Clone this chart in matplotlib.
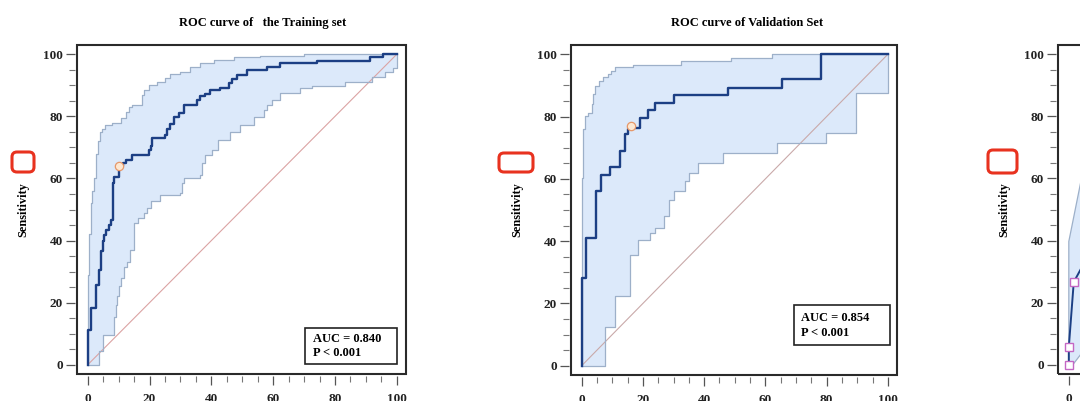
import matplotlib
matplotlib.use("Agg")
import matplotlib.pyplot as plt
from matplotlib.patches import Rectangle, FancyBboxPatch
from matplotlib.transforms import IdentityTransform
from matplotlib.ticker import MultipleLocator

plt.rcParams['font.family'] = ['Liberation Serif', 'DejaVu Serif']
plt.rcParams['font.weight'] = 'bold'

# ---- training set (step ROC, x = 100 - specificity, y = sensitivity) ----
train_x = [0, 0, 0.9, 2.8, 3.6, 4.3, 4.8, 5.4, 6.0, 6.8, 7.6, 8.1, 8.6, 10.0, 11.4, 12.2,
           14.3, 19.7, 20.3, 20.8, 25.1, 25.7, 26.6, 27.8, 29.4, 31.0, 35.4, 36.4, 38.0,
           39.7, 42.9, 45.6, 46.7, 48.3, 51.5, 58.0, 62.3, 74.1, 91.4, 95.7, 100]
train_y = [0, 11.3, 18.2, 25.7, 30.6, 36.5, 39.7, 41.8, 43.4, 45.0, 46.7, 58.5, 60.6, 64.0,
           65.1, 66.0, 67.4, 69.2, 70.5, 73.0, 74.0, 75.8, 77.5, 79.7, 81.2, 83.7, 85.3,
           86.6, 87.2, 88.5, 89.3, 90.7, 92.0, 93.3, 94.9, 96.0, 97.1, 98.0, 99.0, 100, 100]
train_up_x = [0, 0, 0.4, 0.9, 1.4, 1.9, 2.5, 2.8, 3.2, 3.9, 4.6, 5.7, 7.9, 10.6, 12.2, 13.3,
              14.3, 17.6, 18.1, 19.7, 22.4, 25.1, 26.7, 30.0, 33.2, 36.4, 40.7, 47.2, 55.8,
              70.0, 100]
train_up_y = [0, 29, 42, 52, 56, 60, 62, 68, 72, 75, 76, 77.2, 77.8, 79.4, 81.5, 83.1, 83.7,
              86.9, 88.5, 90.0, 91.2, 92.5, 93.5, 94.4, 96.0, 97.1, 98.2, 99.0, 99.5, 100, 100]
train_lo_x = [0, 3.6, 5.0, 8.4, 9.0, 9.5, 10.0, 10.8, 11.6, 12.7, 13.6, 15.0, 16.4, 18.1,
              19.2, 20.3, 23.5, 30.0, 30.5, 31.0, 36.4, 37.0, 38.0, 40.2, 42.3, 46.1, 49.4,
              53.7, 56.9, 58.0, 59.6, 62.3, 68.7, 72.5, 83.3, 91.9, 96.2, 98.9, 100]
train_lo_y = [0, 4.5, 9.7, 15.5, 19.3, 22.0, 25.2, 27.9, 31.6, 33.2, 37.0, 45.6, 47.2, 48.8,
              50.4, 52.6, 54.7, 55.2, 58.5, 60.1, 61.2, 64.9, 67.6, 69.2, 72.4, 75.1, 77.2,
              79.9, 82.1, 83.7, 85.3, 87.4, 89.1, 89.9, 91.2, 92.8, 94.4, 95.5, 100]
train_cut = (10.0, 64.0)
train_auc = "AUC = 0.840\nP < 0.001"

# ---- validation set ----
valid_x = [0, 0, 1.5, 4.8, 6.4, 9.4, 12.4, 14.0, 15.1, 16.0, 18.9, 21.8, 23.8, 30.1, 47.7,
           65.4, 78.1, 100]
valid_y = [0, 28, 40.9, 56, 61.3, 63.7, 68.9, 74.3, 75.9, 76.5, 79.4, 82, 84.5, 87, 89.3,
           92.2, 100, 100]
valid_up_x = [0, 0, 0.4, 1.0, 2.1, 3.2, 3.7, 4.5, 5.5, 6.9, 8.6, 9.7, 11.0, 16.7, 32.5,
              48.8, 62.3, 100]
valid_up_y = [0, 60.3, 75.9, 80.2, 81.3, 83.9, 87.2, 89.9, 91.5, 92.6, 93.6, 94.7, 95.8,
              96.6, 97.9, 98.8, 100, 100]
valid_lo_x = [0, 7.5, 11.0, 15.8, 18.3, 22.3, 24.0, 26.8, 28.4, 30.0, 33.8, 35.2, 37.9,
              46.0, 63.9, 79.7, 89.5, 100]
valid_lo_y = [0, 12.4, 22.3, 35.5, 40.4, 42.5, 44.1, 48.1, 53.3, 56.0, 59.2, 61.9, 65.1,
              68.4, 71.4, 74.8, 87.7, 100]
valid_cut = (16.0, 77.0)
valid_auc = "AUC = 0.854\nP < 0.001"

# ---- third panel (only its left edge is visible) ----
third_x = [0, 0, 1.6, 6.0]
third_y = [0, 5.7, 26.6, 34.7]
third_up_x = [0, 0, 4.0, 8.0]
third_up_y = [0, 39.7, 59.5, 70.0]
third_lo_x = [0, 1.3, 4.0, 8.0]
third_lo_y = [0, 0, 3.5, 8.0]

titles = ["ROC curve of   the Training set", "ROC curve of Validation Set"]

W, H = 1080, 401
fill_c = '#dce9fa'
ci_c = '#9db0c9'
main_c = '#1c3f84'


def steps(xs, ys):
    vx, vy = [xs[0]], [ys[0]]
    for i in range(1, len(xs)):
        vx += [xs[i], xs[i]]
        vy += [ys[i - 1], ys[i]]
    return vx, vy


def make_axes(left, top, w, h):
    ax = fig.add_axes([left / W, 1 - (top + h) / H, w / W, h / H])
    ax.set_xlim(-3.5, 103)
    ax.set_ylim(-3, 103)
    for s in ax.spines.values():
        s.set_visible(False)
    ax.spines['left'].set_position(('outward', 1.5))
    ax.spines['bottom'].set_position(('outward', 1.5))
    ax.add_patch(Rectangle((0, 0), 1, 1, transform=ax.transAxes, fill=False,
                           ec='#2a2a2a', lw=1.5, clip_on=False, zorder=5))
    ax.xaxis.set_major_locator(MultipleLocator(20))
    ax.xaxis.set_minor_locator(MultipleLocator(5))
    ax.yaxis.set_major_locator(MultipleLocator(20))
    ax.yaxis.set_minor_locator(MultipleLocator(5))
    ax.tick_params(which='major', length=6.5, width=0.9, color='#555555')
    ax.tick_params(which='minor', length=4, width=0.8, color='#777777')
    ax.tick_params(axis='y', which='major', pad=2, labelsize=9.5, labelcolor='#222222')
    ax.tick_params(axis='x', which='major', pad=5.5, labelsize=9.5, labelcolor='#222222')
    ax.set_ylabel('Sensitivity', fontsize=8.8, fontweight='bold', labelpad=10)
    return ax


def draw_steps(ax, mx, my, ux, uy, lx, ly, diag_c):
    uvx, uvy = steps(ux, uy)
    lvx, lvy = steps(lx, ly)
    ax.fill(uvx + lvx[::-1], uvy + lvy[::-1], color=fill_c, lw=0, zorder=1)
    ax.plot([0, 100], [0, 100], color=diag_c, lw=0.8, zorder=2)
    ax.plot(uvx, uvy, color=ci_c, lw=0.9, zorder=3)
    ax.plot(lvx, lvy, color=ci_c, lw=0.9, zorder=3)
    mvx, mvy = steps(mx, my)
    ax.plot(mvx, mvy, color=main_c, lw=1.7, zorder=4)


fig = plt.figure(figsize=(W / 100, H / 100), dpi=100)

ax1 = make_axes(77, 45, 329, 329)
draw_steps(ax1, train_x, train_y, train_up_x, train_up_y, train_lo_x, train_lo_y, '#dba3a3')
ax1.plot(*train_cut, 'o', ms=6, mfc='#fde8d2', mec='#e6986a', mew=0.9, zorder=6)
ax1.add_patch(Rectangle((70.4, 0.3), 29.7, 11.6, fill=False, ec='#222222', lw=1.2, zorder=6))
ax1.text(73, 6.1, train_auc, fontsize=9, fontweight='bold', va='center', linespacing=1.25,
         zorder=7)

ax2 = make_axes(571, 45, 326, 330)
draw_steps(ax2, valid_x, valid_y, valid_up_x, valid_up_y, valid_lo_x, valid_lo_y, '#c9a9a9')
ax2.plot(*valid_cut, 'o', ms=6, mfc='#fde8d2', mec='#e6986a', mew=0.9, zorder=6)
ax2.add_patch(Rectangle((69.4, 6.5), 31.2, 12.9, fill=False, ec='#222222', lw=1.2, zorder=6))
ax2.text(71.8, 12.9, valid_auc, fontsize=9, fontweight='bold', va='center', linespacing=1.25,
         zorder=7)

ax3 = make_axes(1058, 45, 329, 329)
ax3.fill(third_up_x + third_lo_x[::-1], third_up_y + third_lo_y[::-1], color=fill_c, lw=0,
         zorder=1)
ax3.plot(third_up_x, third_up_y, color=ci_c, lw=0.9, zorder=3)
ax3.plot(third_lo_x, third_lo_y, color=ci_c, lw=0.9, zorder=3)
ax3.plot(third_x, third_y, color=main_c, lw=1.4, marker='s', ms=6, mfc='white',
         mec='#c467c4', mew=1.0, zorder=4)

fig.text(263 / W, 1 - 23 / H, titles[0], fontsize=9, fontweight='bold', ha='center',
         va='center')
fig.text(747 / W, 1 - 23 / H, titles[1], fontsize=9, fontweight='bold', ha='center',
         va='center')

# red markers drawn next to the axis labels
for x0, y0, x1, y1 in [(12, 152, 34, 172), (499, 153, 533, 172), (988, 150, 1017, 173)]:
    fig.add_artist(FancyBboxPatch((x0, H - y1), x1 - x0, y1 - y0,
                                  boxstyle='round,pad=0,rounding_size=5',
                                  transform=IdentityTransform(), fill=False,
                                  ec='#e8321f', lw=2.2))

fig.savefig('out.png', dpi=100)
